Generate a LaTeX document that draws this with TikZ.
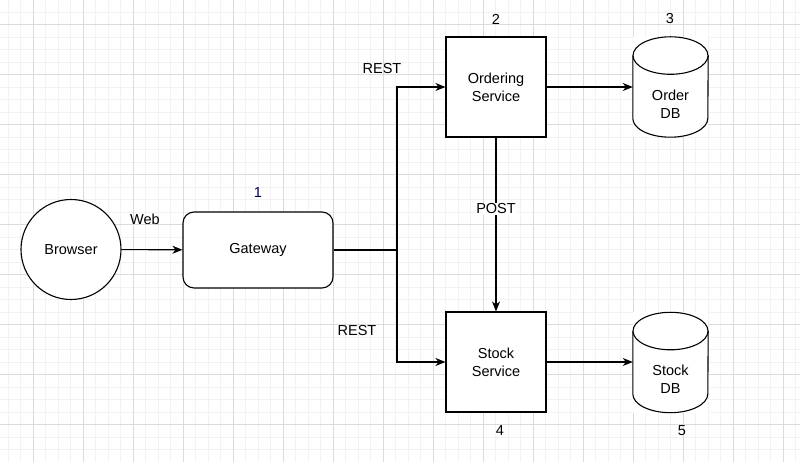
\documentclass[tikz,border=0pt]{standalone}
\usepackage{fontspec}
\setmainfont{Liberation Sans}
\usetikzlibrary{arrows.meta,calc}

\tikzset{
  every node/.style={font=\fontsize{14.5}{18}\selectfont, align=center},
  service/.style={draw, line width=1.1pt, fill=white, minimum width=100pt, minimum height=100pt, inner sep=0pt},
  dbbody/.style={minimum width=75pt, minimum height=100pt, inner sep=0pt},
  flow/.style={line width=1.1pt, -{Stealth[length=10pt,width=8pt,inset=3pt]}},
  tag/.style={inner sep=1pt}
}

% cylinder round a named node
\newcommand{\dbcyl}[1]{%
  \fill[white] (#1.north west) rectangle (#1.south east);
  \draw[line width=1.1pt, fill=white] ($(#1.north west)+(0,-18.75)$) -- ($(#1.south west)+(0,18.75)$)
    arc[start angle=180, end angle=360, x radius=37.5, y radius=18.75]
    -- ($(#1.north east)+(0,-18.75)$);
  \draw[line width=1.1pt, fill=white] ($(#1.north)+(0,-18.75)$) ellipse [x radius=37.5, y radius=18.75];
}

\begin{document}
\begin{tikzpicture}[x=1pt,y=1pt]
  \useasboundingbox (0,0) rectangle (800,462);
  \fill[white] (0,0) rectangle (800,462);
  % grid
  \foreach \gx in {0,...,64} \draw[line width=0.8pt, black!5] ({8.3+12.5*\gx},0) -- ({8.3+12.5*\gx},462);
  \foreach \gy in {0,...,37} \draw[line width=0.8pt, black!5] (0,{462-12-12.5*\gy}) -- (800,{462-12-12.5*\gy});
  \foreach \gx in {0,...,15} \draw[line width=0.8pt, black!14] ({33.3+50*\gx},0) -- ({33.3+50*\gx},462);
  \foreach \gy in {0,...,9} \draw[line width=0.8pt, black!14] (0,{462-24.5-50*\gy}) -- (800,{462-24.5-50*\gy});

  % nodes
  \node[draw, circle, line width=1.1pt, fill=white, minimum size=100pt, inner sep=0pt] (browser) at (71,212.5) {Browser};
  \node[draw, line width=1.1pt, fill=white, rounded corners=11pt, minimum width=150pt, minimum height=76pt] (gateway) at (258,212) {Gateway};
  \node[service] (ordering) at (496,375) {Ordering\\Service};
  \node[service] (stock) at (496,100) {Stock\\Service};
  \node[dbbody] (orderdb) at (670.5,375) {};
  \node[dbbody] (stockdb) at (670.5,99.5) {};
  \dbcyl{orderdb}
  \dbcyl{stockdb}
  \node (orderdbtext) at ([yshift=-17pt]orderdb.center) {Order\\DB};
  \node (stockdbtext) at ([yshift=-17pt]stockdb.center) {Stock\\DB};

  % numbers
  \node[text={rgb,255:red,0;green,0;blue,90}] (n1) at (258,269) {1};
  \node (n2) at (496,443) {2};
  \node (n3) at (670,443) {3};
  \node (n4) at (500,31) {4};
  \node (n5) at (682,31) {5};

  % connectors
  \coordinate (split) at (397,212);
  \draw[flow] (browser) -- (gateway);
  \draw[flow] (gateway.east) -- (split) |- (ordering.west);
  \draw[flow] (gateway.east) -- (split) |- (stock.west);
  \draw[flow] (ordering) -- (orderdb.west |- ordering.east);
  \draw[flow] (stock) -- (stockdb.west |- stock.east);
  \draw[flow] (ordering) -- node[fill=white, tag, pos=0.41] (post) {POST} (stock);

  % labels
  \node (web) at (145,243) {Web};
  \node (resttop) at (382,393) {REST};
  \node (restbottom) at (357,131) {REST};
\end{tikzpicture}
\end{document}
